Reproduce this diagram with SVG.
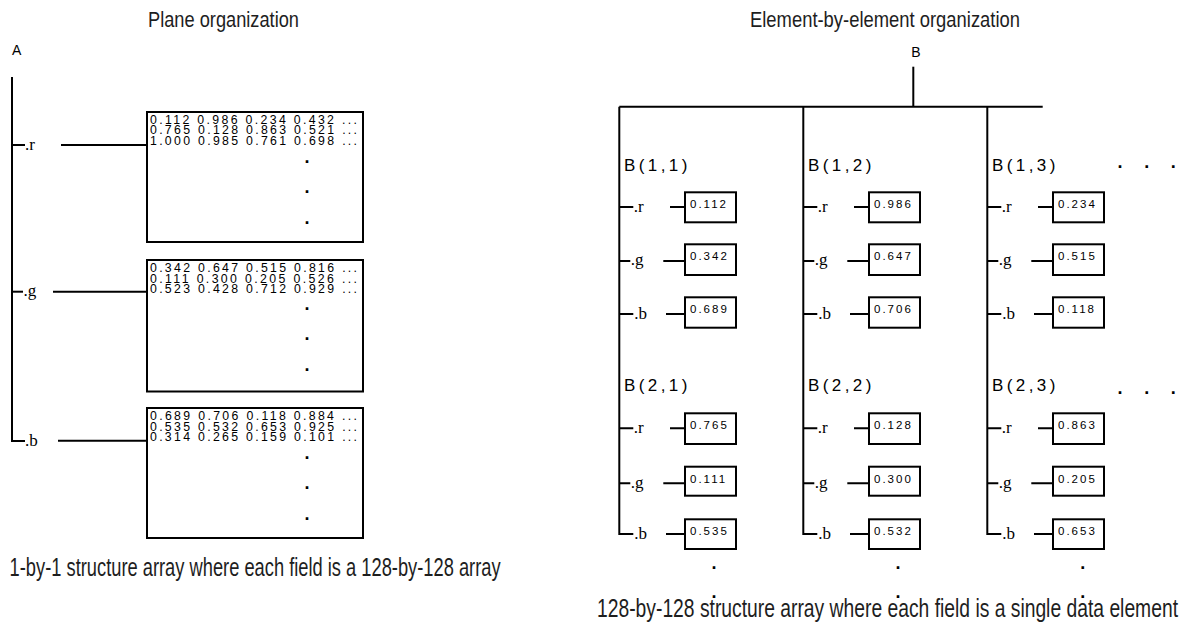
<svg xmlns="http://www.w3.org/2000/svg" width="1182" height="634" viewBox="0 0 1182 634">
<style>
.ln{stroke:#000;stroke-width:2;fill:none}
.box{fill:#fff;stroke:#000;stroke-width:2}
.mat{font-family:"Liberation Sans",sans-serif;font-size:12.3px;fill:#000}
.val{font-family:"Liberation Sans",sans-serif;font-size:11.5px;letter-spacing:2px;fill:#000}
.bl{font-family:"Liberation Sans",sans-serif;font-size:17px;letter-spacing:3.4px;fill:#000}
.fld{font-family:"Liberation Serif",serif;font-size:17px;fill:#000}
.cap{font-family:"Liberation Sans",sans-serif;fill:#1e1e1e}
.dot{font-family:"Liberation Sans",sans-serif;font-weight:bold;font-size:18px;fill:#000;text-anchor:middle}
</style>
<rect width="1182" height="634" fill="#fff"/>

<!-- connectors -->
<g id="connectors">
  <!-- left tree -->
  <path class="ln" d="M12 77 V441 H25"/>
  <path class="ln" d="M12 145 H25"/>
  <path class="ln" d="M12 291.7 H23"/>
  <path class="ln" d="M61 145 H147"/>
  <path class="ln" d="M53 291.7 H147"/>
  <path class="ln" d="M58 440.7 H147"/>
  <!-- right tree -->
  <path class="ln" d="M913.3 66.7 V106.7"/>
  <path class="ln" d="M619.3 106.7 H1042.7"/>
  <path class="ln" d="M619.3 106.7 V534 H633.3"/>
  <path class="ln" d="M803.3 106.7 V534 H817.3"/>
  <path class="ln" d="M987.3 106.7 V534 H1001.3"/>
  <!-- col1 ticks -->
  <path class="ln" d="M619.3 207 H633.3 M619.3 261 H630.3 M619.3 314 H633.3 M619.3 428.3 H633.3 M619.3 483.3 H630.3"/>
  <path class="ln" d="M670 207 H685 M663.3 261 H685 M666 314 H685 M670 428.3 H685 M663.3 483.3 H685 M666 534 H685"/>
  <!-- col2 ticks -->
  <path class="ln" d="M803.3 207 H817.3 M803.3 261 H814.3 M803.3 314 H817.3 M803.3 428.3 H817.3 M803.3 483.3 H814.3"/>
  <path class="ln" d="M854 207 H869 M847.3 261 H869 M850 314 H869 M854 428.3 H869 M847.3 483.3 H869 M850 534 H869"/>
  <!-- col3 ticks -->
  <path class="ln" d="M987.3 207 H1001.3 M987.3 261 H998.3 M987.3 314 H1001.3 M987.3 428.3 H1001.3 M987.3 483.3 H998.3"/>
  <path class="ln" d="M1038 207 H1053 M1031.3 261 H1053 M1034 314 H1053 M1038 428.3 H1053 M1031.3 483.3 H1053 M1034 534 H1053"/>
</g>

<!-- titles and captions -->
<g id="title-plane"><text class="cap" x="223.5" y="26.7" font-size="22" text-anchor="middle" textLength="151" lengthAdjust="spacingAndGlyphs">Plane organization</text></g>
<g id="title-element"><text class="cap" x="885" y="26.7" font-size="22" text-anchor="middle" textLength="270" lengthAdjust="spacingAndGlyphs">Element-by-element organization</text></g>
<g id="caption-plane"><text class="cap" x="9.6" y="576" font-size="26" textLength="491" lengthAdjust="spacingAndGlyphs">1-by-1 structure array where each field is a 128-by-128 array</text></g>
<g id="caption-element"><text class="cap" x="597" y="616.5" font-size="26" textLength="581" lengthAdjust="spacingAndGlyphs">128-by-128 structure array where each field is a single data element</text></g>

<!-- left: A -->
<g id="node-A"><text x="12" y="55" font-family="Liberation Sans, sans-serif" font-size="14">A</text></g>
<g id="field-A-r"><text class="fld" x="25" y="150">.r</text></g>
<g id="field-A-g"><text class="fld" x="23.5" y="296">.g</text></g>
<g id="field-A-b"><text class="fld" x="25" y="446">.b</text></g>

<g id="plane-r">
  <rect class="box" x="147" y="112" width="216" height="130"/>
  <text class="mat" x="150" y="124" textLength="207" lengthAdjust="spacing">0.112 0.986 0.234 0.432 ...</text>
  <text class="mat" x="150" y="134.3" textLength="207" lengthAdjust="spacing">0.765 0.128 0.863 0.521 ...</text>
  <text class="mat" x="150" y="144.6" textLength="207" lengthAdjust="spacing">1.000 0.985 0.761 0.698 ...</text>
  <text class="dot" x="307" y="162.5">.</text>
  <text class="dot" x="307" y="193.3">.</text>
  <text class="dot" x="307" y="223.5">.</text>
</g>
<g id="plane-g">
  <rect class="box" x="147" y="260" width="216" height="131.5"/>
  <text class="mat" x="150" y="272.3" textLength="207" lengthAdjust="spacing">0.342 0.647 0.515 0.816 ...</text>
  <text class="mat" x="150" y="282.6" textLength="207" lengthAdjust="spacing">0.111 0.300 0.205 0.526 ...</text>
  <text class="mat" x="150" y="292.9" textLength="207" lengthAdjust="spacing">0.523 0.428 0.712 0.929 ...</text>
  <text class="dot" x="307" y="310.3">.</text>
  <text class="dot" x="307" y="340.3">.</text>
  <text class="dot" x="307" y="371.3">.</text>
</g>
<g id="plane-b">
  <rect class="box" x="147" y="408" width="216" height="130"/>
  <text class="mat" x="150" y="420.3" textLength="207" lengthAdjust="spacing">0.689 0.706 0.118 0.884 ...</text>
  <text class="mat" x="150" y="430.6" textLength="207" lengthAdjust="spacing">0.535 0.532 0.653 0.925 ...</text>
  <text class="mat" x="150" y="440.9" textLength="207" lengthAdjust="spacing">0.314 0.265 0.159 0.101 ...</text>
  <text class="dot" x="307" y="459.3">.</text>
  <text class="dot" x="307" y="489.3">.</text>
  <text class="dot" x="307" y="520.3">.</text>
</g>

<!-- right: B -->
<g id="node-B"><text x="916" y="56.7" font-family="Liberation Sans, sans-serif" font-size="14" text-anchor="middle">B</text></g>

<g id="B11">
  <text class="bl" x="624" y="171">B(1,1)</text>
  <text class="fld" x="633.8" y="212">.r</text><text class="fld" x="630.8" y="265">.g</text><text class="fld" x="634.3" y="319">.b</text>
  <rect class="box" x="685" y="192.3" width="51" height="30"/><text class="val" x="690" y="208.3">0.112</text>
  <rect class="box" x="685" y="244.3" width="51" height="30.7"/><text class="val" x="690" y="260.3">0.342</text>
  <rect class="box" x="685" y="297.3" width="51" height="30.4"/><text class="val" x="690" y="313.3">0.689</text>
</g>
<g id="B12">
  <text class="bl" x="808" y="171">B(1,2)</text>
  <text class="fld" x="817.8" y="212">.r</text><text class="fld" x="814.8" y="265">.g</text><text class="fld" x="818.3" y="319">.b</text>
  <rect class="box" x="869" y="192.3" width="51" height="30"/><text class="val" x="874" y="208.3">0.986</text>
  <rect class="box" x="869" y="244.3" width="51" height="30.7"/><text class="val" x="874" y="260.3">0.647</text>
  <rect class="box" x="869" y="297.3" width="51" height="30.4"/><text class="val" x="874" y="313.3">0.706</text>
</g>
<g id="B13">
  <text class="bl" x="992" y="171">B(1,3)</text>
  <text class="fld" x="1001.8" y="212">.r</text><text class="fld" x="998.8" y="265">.g</text><text class="fld" x="1002.3" y="319">.b</text>
  <rect class="box" x="1053" y="192.3" width="51" height="30"/><text class="val" x="1058" y="208.3">0.234</text>
  <rect class="box" x="1053" y="244.3" width="51" height="30.7"/><text class="val" x="1058" y="260.3">0.515</text>
  <rect class="box" x="1053" y="297.3" width="51" height="30.4"/><text class="val" x="1058" y="313.3">0.118</text>
</g>
<g id="B1-more"><text class="dot" x="1120 1146.7 1173.3" y="168.3">...</text></g>

<g id="B21">
  <text class="bl" x="624" y="390.5">B(2,1)</text>
  <text class="fld" x="633.8" y="433.3">.r</text><text class="fld" x="630.8" y="487.5">.g</text><text class="fld" x="634.3" y="539">.b</text>
  <rect class="box" x="685" y="413.3" width="51" height="30.7"/><text class="val" x="690" y="429.3">0.765</text>
  <rect class="box" x="685" y="466.7" width="51" height="29"/><text class="val" x="690" y="482.7">0.111</text>
  <rect class="box" x="685" y="519.3" width="51" height="29.7"/><text class="val" x="690" y="535.3">0.535</text>
</g>
<g id="B22">
  <text class="bl" x="808" y="390.5">B(2,2)</text>
  <text class="fld" x="817.8" y="433.3">.r</text><text class="fld" x="814.8" y="487.5">.g</text><text class="fld" x="818.3" y="539">.b</text>
  <rect class="box" x="869" y="413.3" width="51" height="30.7"/><text class="val" x="874" y="429.3">0.128</text>
  <rect class="box" x="869" y="466.7" width="51" height="29"/><text class="val" x="874" y="482.7">0.300</text>
  <rect class="box" x="869" y="519.3" width="51" height="29.7"/><text class="val" x="874" y="535.3">0.532</text>
</g>
<g id="B23">
  <text class="bl" x="992" y="390.5">B(2,3)</text>
  <text class="fld" x="1001.8" y="433.3">.r</text><text class="fld" x="998.8" y="487.5">.g</text><text class="fld" x="1002.3" y="539">.b</text>
  <rect class="box" x="1053" y="413.3" width="51" height="30.7"/><text class="val" x="1058" y="429.3">0.863</text>
  <rect class="box" x="1053" y="466.7" width="51" height="29"/><text class="val" x="1058" y="482.7">0.205</text>
  <rect class="box" x="1053" y="519.3" width="51" height="29.7"/><text class="val" x="1058" y="535.3">0.653</text>
</g>
<g id="B2-more"><text class="dot" x="1120 1146.7 1173.3" y="394.3">...</text></g>
<g id="B-rows-more">
  <text class="dot" x="714 898 1082.7" y="568.6">...</text>
  <text class="dot" x="714 898 1082.7" y="598">...</text>
</g>
</svg>
